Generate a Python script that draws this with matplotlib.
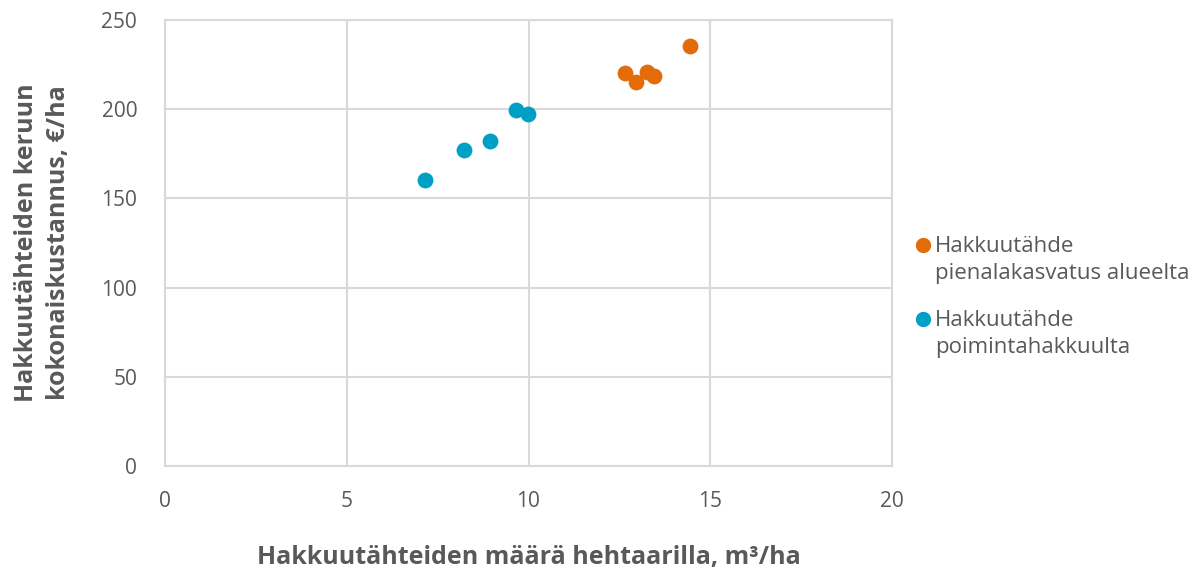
import matplotlib
matplotlib.use("Agg")
import matplotlib.pyplot as plt
from matplotlib.lines import Line2D
from matplotlib.legend_handler import HandlerLine2D

plt.rcParams['font.family'] = ['Open Sans', 'DejaVu Sans']

series_names = ["Hakkuutähde\npienalakasvatus alueelta", "Hakkuutähde\npoimintahakkuulta"]
orange_x = [12.65, 12.96, 13.26, 13.45, 14.44]
orange_y = [220.3, 215.2, 220.9, 218.6, 235.4]
blue_x = [7.15, 8.23, 8.94, 9.66, 9.99]
blue_y = [160.3, 177.1, 182.2, 199.6, 197.3]
colors = ["#E36C0A", "#00A0C6"]
x_ticks = [0, 5, 10, 15, 20]
y_ticks = [0, 50, 100, 150, 200, 250]
x_label = "Hakkuutähteiden määrä hehtaarilla, m³/ha"
y_label = "Hakkuutähteiden keruun\nkokonaiskustannus, €/ha"

fig = plt.figure(figsize=(11.99, 5.76), dpi=100)
ax = fig.add_axes([165/1199, 1-466/576, (892-165)/1199, (466-20)/576])

ax.scatter(orange_x, orange_y, s=130, color=colors[0], zorder=3, linewidths=0)
ax.scatter(blue_x, blue_y, s=130, color=colors[1], zorder=3, linewidths=0)

ax.set_xlim(0, 20)
ax.set_ylim(0, 250)
ax.set_xticks(x_ticks)
ax.set_yticks(y_ticks)
ax.grid(True, color="#d9d9d9", linewidth=1.5)
ax.set_axisbelow(True)
for sp in ax.spines.values():
    sp.set_color("#d9d9d9")
    sp.set_linewidth(1.5)
ax.tick_params(axis='x', length=0, labelsize=15, labelcolor="#595959", pad=18)
ax.tick_params(axis='y', length=0, labelsize=15, labelcolor="#595959", pad=20)

ax.set_xlabel(x_label, fontsize=18, fontweight="bold", color="#595959", labelpad=24)
ax.set_ylabel(y_label, fontsize=18, fontweight="bold", color="#595959", labelpad=22,
              linespacing=1.35)


class TopHandler(HandlerLine2D):
    def create_artists(self, legend, orig_handle, xdescent, ydescent, width, height,
                       fontsize, trans):
        arts = super().create_artists(legend, orig_handle, xdescent, ydescent, width,
                                      height, fontsize, trans)
        for a in arts:
            yd = a.get_ydata()
            a.set_ydata([y + 0.7 * fontsize for y in yd])
        return arts


handles = [Line2D([], [], marker='o', linestyle='', color=c, markersize=10) for c in colors]
leg = fig.legend(handles, series_names, loc="upper left", bbox_to_anchor=(912/1199, 1-236/576),
                 frameon=False, fontsize=16, handletextpad=0.05, handlelength=1.0,
                 labelspacing=1.15, labelcolor="#595959", borderaxespad=0, borderpad=0,
                 handler_map={Line2D: TopHandler()})
for t in leg.get_texts():
    t.set_linespacing(1.4)

fig.savefig("out.png", dpi=100)
